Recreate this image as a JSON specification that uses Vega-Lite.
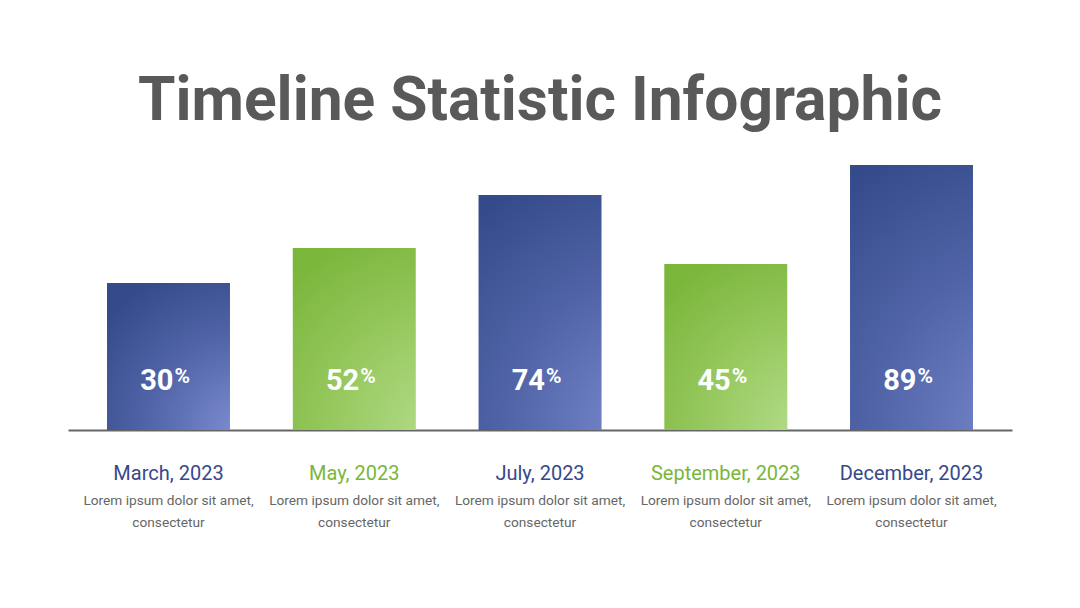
{
  "$schema": "https://vega.github.io/schema/vega-lite/v6.json",
  "autosize": "none",
  "width": 944,
  "height": 280,
  "padding": {"top": 150, "left": 68, "right": 68, "bottom": 178},
  "background": "white",
  "title": {
    "text": "Timeline Statistic Infographic",
    "font": "Roboto",
    "fontSize": 60.5,
    "fontWeight": "bold",
    "color": "#595959",
    "anchor": "middle",
    "baseline": "alphabetic",
    "offset": -30
  },
  "config": {"view": {"stroke": null}},
  "data": {
    "values": [
      {"month": "March, 2023", "level": 147, "pct": "30", "group": "blue", "desc": ["Lorem ipsum dolor sit amet,", "consectetur"]},
      {"month": "May, 2023", "level": 182, "pct": "52", "group": "green", "desc": ["Lorem ipsum dolor sit amet,", "consectetur"]},
      {"month": "July, 2023", "level": 235, "pct": "74", "group": "blue", "desc": ["Lorem ipsum dolor sit amet,", "consectetur"]},
      {"month": "September, 2023", "level": 166, "pct": "45", "group": "green", "desc": ["Lorem ipsum dolor sit amet,", "consectetur"]},
      {"month": "December, 2023", "level": 265, "pct": "89", "group": "blue", "desc": ["Lorem ipsum dolor sit amet,", "consectetur"]}
    ]
  },
  "encoding": {
    "x": {
      "field": "month",
      "type": "nominal",
      "sort": ["March, 2023", "May, 2023", "July, 2023", "September, 2023", "December, 2023"],
      "scale": {"paddingInner": 0.338, "paddingOuter": 0.21},
      "axis": {
        "title": null,
        "labelAngle": 0,
        "labelFont": "Roboto",
        "labelFontSize": 20,
        "labelBaseline": "middle",
        "labelPadding": 43,
        "labelColor": {
          "condition": {"test": "indexof(['May, 2023','September, 2023'], datum.value) >= 0", "value": "#7ab63a"},
          "value": "#36498a"
        },
        "ticks": false,
        "grid": false,
        "domain": true,
        "domainColor": "#666666",
        "domainWidth": 2
      }
    }
  },
  "layer": [
    {
      "transform": [{"filter": "datum.group === 'blue'"}],
      "mark": {
        "type": "bar",
        "color": {
          "gradient": "radial",
          "x1": 1, "y1": 1, "r1": 0,
          "x2": 1, "y2": 1, "r2": 1.2,
          "stops": [
            {"offset": 0, "color": "#7e8dd2"},
            {"offset": 0.55, "color": "#4f63a6"},
            {"offset": 1, "color": "#354a8a"}
          ]
        }
      },
      "encoding": {
        "y": {"field": "level", "type": "quantitative", "scale": {"domain": [0, 280]}, "axis": null}
      }
    },
    {
      "transform": [{"filter": "datum.group === 'green'"}],
      "mark": {
        "type": "bar",
        "color": {
          "gradient": "radial",
          "x1": 1, "y1": 1, "r1": 0,
          "x2": 1, "y2": 1, "r2": 1.2,
          "stops": [
            {"offset": 0, "color": "#b5dd8c"},
            {"offset": 0.55, "color": "#95c75c"},
            {"offset": 1, "color": "#7ab63a"}
          ]
        }
      },
      "encoding": {
        "y": {"field": "level", "type": "quantitative", "scale": {"domain": [0, 280]}, "axis": null}
      }
    },
    {
      "mark": {"type": "text", "font": "Roboto", "fontWeight": "bold", "fontSize": 29, "color": "white", "align": "right", "baseline": "alphabetic", "dx": 5, "dy": -40},
      "encoding": {
        "y": {"datum": 0, "type": "quantitative"},
        "text": {"field": "pct"}
      }
    },
    {
      "mark": {"type": "text", "font": "Roboto", "fontWeight": "bold", "fontSize": 21, "color": "white", "align": "left", "baseline": "alphabetic", "dx": 6, "dy": -47},
      "encoding": {
        "y": {"datum": 0, "type": "quantitative"},
        "text": {"value": "%"}
      }
    },
    {
      "mark": {"type": "text", "font": "Roboto", "fontSize": 13.7, "color": "#666666", "align": "center", "baseline": "alphabetic", "lineHeight": 22, "dy": 75},
      "encoding": {
        "y": {"datum": 0, "type": "quantitative"},
        "text": {"field": "desc"}
      }
    }
  ]
}
